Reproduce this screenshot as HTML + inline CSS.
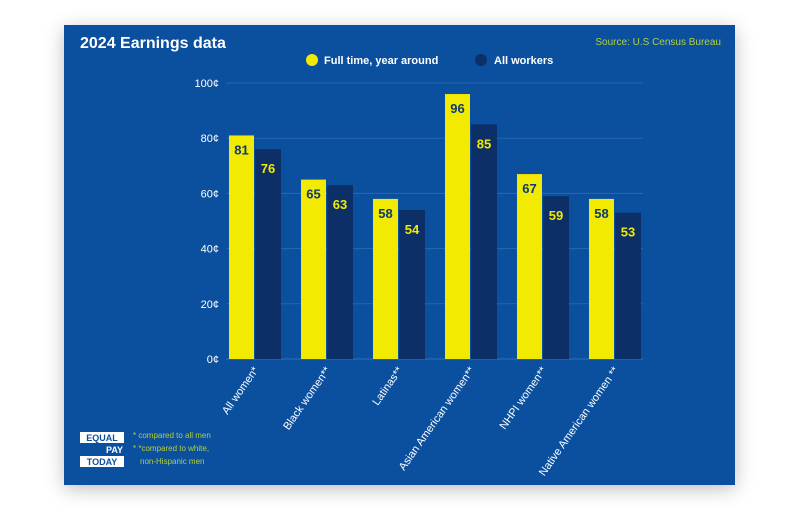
<!DOCTYPE html>
<html><head><style>
body{margin:0;background:#fff;width:800px;height:532px;overflow:hidden;font-family:"Liberation Sans",sans-serif}
#panel{position:absolute;left:64px;top:25px;width:671px;height:460px;background:#0b4f9f;box-shadow:0 4px 18px rgba(0,0,0,.25)}
</style></head><body>
<div id="panel"></div>
<svg id="c" width="800" height="532" style="position:absolute;left:0;top:0">
<text x="80" y="48" fill="#fff" font-size="16" font-weight="bold">2024 Earnings data</text>
<text x="721" y="45" fill="#b5cf3a" font-size="10" text-anchor="end">Source: U.S Census Bureau</text>
<circle cx="312" cy="60" r="6" fill="#f2ea00"/>
<text x="324" y="64" fill="#fff" font-size="11" font-weight="bold">Full time, year around</text>
<circle cx="481" cy="60" r="6" fill="#0b2f66"/>
<text x="494" y="64" fill="#fff" font-size="11" font-weight="bold">All workers</text>
<g id="g"></g>
<g>
<rect x="80" y="432" width="44" height="11" fill="#fff"/><text x="102" y="441" font-size="9" font-weight="bold" fill="#0b4f9f" text-anchor="middle">EQUAL</text>
<text x="123" y="453" font-size="9" font-weight="bold" fill="#fff" text-anchor="end">PAY</text>
<rect x="80" y="456" width="44" height="11" fill="#fff"/><text x="102" y="465" font-size="9" font-weight="bold" fill="#0b4f9f" text-anchor="middle">TODAY</text>
</g>
<g fill="#b5cf3a" font-size="8">
<text x="133" y="438">* compared to all men</text>
<text x="133" y="451">* *compared to white,</text>
<text x="140" y="464">non-Hispanic men</text>
</g>
</svg>
<script>
const categories=["All women*","Black women**","Latinas**","Asian American women**","NHPI women**","Native American women **"];
const fullTime=[81,65,58,96,67,58];
const allWorkers=[76,63,54,85,59,53];
const ticks=[0,20,40,60,80,100];
const NS="http://www.w3.org/2000/svg",g=document.getElementById('g');
const y=v=>359-v*2.76, gx=i=>229+i*72;
function mk(t,a,txt){const e=document.createElementNS(NS,t);for(const k in a)e.setAttribute(k,a[k]);if(txt!=null)e.textContent=txt;g.appendChild(e);return e;}
ticks.forEach(t=>{
 const l=mk('line',{x1:226,x2:643,y1:y(t),y2:y(t),stroke:t? '#2a64b0':'#3a6fb5','stroke-width':1});
 
 
 const tx=mk('text',{x:219,y:y(t)+4,fill:'#fff','font-size':11,'text-anchor':'end'},t+'¢');
 
 
});
categories.forEach((c,i)=>{
 const x=gx(i);
 const b1=mk('rect',{x:x,y:y(fullTime[i]),width:25,height:fullTime[i]*2.76,fill:'#f2ea00'});
 
 
 const b2=mk('rect',{x:x+26,y:y(allWorkers[i]),width:26,height:allWorkers[i]*2.76,fill:'#0b2f66'});
 
 
 const v1=mk('text',{x:x+12.5,y:y(fullTime[i])+19,fill:'#0b3a78','font-size':13,'font-weight':'bold','text-anchor':'middle'},fullTime[i]);
 
 
 const v2=mk('text',{x:x+39,y:y(allWorkers[i])+24,fill:'#f2ea00','font-size':13,'font-weight':'bold','text-anchor':'middle'},allWorkers[i]);
 
 
 const lx=x+30,ly=370;
 const cl=mk('text',{x:lx,y:ly,fill:'#fff','font-size':11,'text-anchor':'end',transform:`rotate(-55 ${lx} ${ly})`},c);
 
 
});
</script>
</body></html>
